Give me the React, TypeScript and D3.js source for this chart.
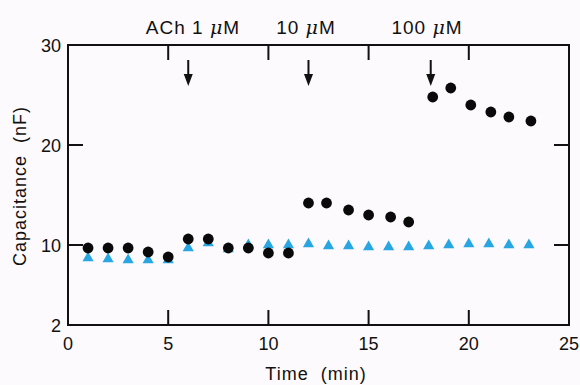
import React, { useEffect, useRef } from 'react';
import * as d3 from 'd3';

// ACh responses (black circles) and control (blue triangles)
const achTime = [1, 2, 3, 4, 5, 6, 7, 8, 9, 10, 11, 12, 12.9, 14, 15, 16.1, 17, 18.2, 19.1, 20.1, 21.1, 22, 23.1];
const achCap = [9.7, 9.7, 9.7, 9.3, 8.8, 10.6, 10.6, 9.7, 9.7, 9.2, 9.2, 14.2, 14.2, 13.5, 13.0, 12.8, 12.3, 24.8, 25.7, 24.0, 23.3, 22.8, 22.4];
const ctrlTime = [1, 2, 3, 4, 5, 6, 7, 8, 9, 10, 11, 12, 13, 14, 15, 16, 17, 18, 19, 20, 21, 22, 23];
const ctrlCap = [8.7, 8.6, 8.5, 8.5, 8.5, 9.7, 10.2, 9.6, 10.0, 10.0, 10.0, 10.1, 9.9, 9.9, 9.8, 9.8, 9.8, 9.9, 10.0, 10.1, 10.1, 10.0, 10.0];

const xTicks = [0, 5, 10, 15, 20, 25];
const yTicks = [2, 10, 20, 30];
const arrowTimes = [6, 12, 18.1];
const doseLabels = [
  { pre: 'ACh 1 ', x: 193 },
  { pre: '10 ', x: 306 },
  { pre: '100 ', x: 427 },
];

const W = 580;
const H = 385;
const margin = { top: 45, right: 11, bottom: 60, left: 68 };
const FONT = '"Liberation Sans", Arial, Helvetica, sans-serif';

export default function App() {
  const ref = useRef<SVGSVGElement>(null);

  useEffect(() => {
    if (!ref.current) return;
    const svg = d3.select(ref.current);
    svg.selectAll('*').remove();

    const x = d3.scaleLinear().domain([0, 25]).range([margin.left, W - margin.right]);
    const y = d3.scaleLinear().domain([2, 30]).range([H - margin.bottom, margin.top]);

    svg.append('rect').attr('width', W).attr('height', H).attr('fill', '#fcfafc');

    const [x0, x1] = x.range();
    const [y0, y1] = y.range();
    const tickLen = 15;

    // frame
    svg.append('rect')
      .attr('x', x0).attr('y', y1)
      .attr('width', x1 - x0).attr('height', y0 - y1)
      .attr('fill', 'none').attr('stroke', '#111').attr('stroke-width', 2);

    const inner = xTicks.filter(t => t > 0 && t < 25);
    const g = svg.append('g').attr('stroke', '#111').attr('stroke-width', 2);
    inner.forEach(t => {
      g.append('line').attr('x1', x(t)).attr('x2', x(t)).attr('y1', y0).attr('y2', y0 - tickLen);
      g.append('line').attr('x1', x(t)).attr('x2', x(t)).attr('y1', y1).attr('y2', y1 + tickLen);
    });
    yTicks.filter(t => t > 2 && t < 30).forEach(t => {
      g.append('line').attr('x1', x0).attr('x2', x0 + tickLen).attr('y1', y(t)).attr('y2', y(t));
      g.append('line').attr('x1', x1).attr('x2', x1 - tickLen).attr('y1', y(t)).attr('y2', y(t));
    });

    // tick labels
    svg.append('g').selectAll('text').data(xTicks).enter().append('text')
      .attr('x', d => x(d)).attr('y', y0 + 25)
      .attr('text-anchor', 'middle')
      .attr('font-family', FONT).attr('font-size', 18).attr('fill', '#111')
      .text(d => d);
    svg.append('g').selectAll('text').data(yTicks).enter().append('text')
      .attr('x', x0 - 7).attr('y', d => y(d) + 6.5)
      .attr('text-anchor', 'end')
      .attr('font-family', FONT).attr('font-size', 18).attr('fill', '#111')
      .text(d => d);

    // axis titles
    svg.append('text')
      .attr('x', 316).attr('y', 380)
      .attr('text-anchor', 'middle')
      .attr('font-family', FONT).attr('font-size', 18).attr('letter-spacing', 1).attr('fill', '#111')
      .attr('xml:space', 'preserve')
      .text('Time  (min)');
    svg.append('text')
      .attr('transform', `translate(26,186) rotate(-90)`)
      .attr('text-anchor', 'middle')
      .attr('font-family', FONT).attr('font-size', 18).attr('letter-spacing', 1).attr('fill', '#111')
      .attr('xml:space', 'preserve')
      .text('Capacitance  (nF)');

    // dose labels
    doseLabels.forEach(d => {
      const t = svg.append('text')
        .attr('x', d.x).attr('y', 34)
        .attr('text-anchor', 'middle')
        .attr('font-family', FONT).attr('font-size', 19).attr('letter-spacing', 1).attr('fill', '#111')
        .attr('xml:space', 'preserve');
      t.append('tspan').text(d.pre);
      t.append('tspan').attr('font-style', 'italic').attr('font-family', '"DejaVu Serif", serif').text('\u03bc');
      t.append('tspan').text('M');
    });

    // arrows
    arrowTimes.forEach(t => {
      const ax = x(t);
      svg.append('line').attr('x1', ax).attr('x2', ax).attr('y1', 60).attr('y2', 76)
        .attr('stroke', '#111').attr('stroke-width', 2);
      svg.append('path')
        .attr('d', `M${ax - 4.5},74 L${ax + 4.5},74 L${ax},86 Z`)
        .attr('fill', '#111');
    });

    // control triangles
    const tri = d3.symbol().type(d3.symbolTriangle).size(54);
    svg.append('g').selectAll('path').data(ctrlTime).enter().append('path')
      .attr('d', tri)
      .attr('transform', (d, i) => `translate(${x(d)},${y(ctrlCap[i])})`)
      .attr('fill', '#27a6e1');

    // ACh circles
    svg.append('g').selectAll('circle').data(achTime).enter().append('circle')
      .attr('cx', d => x(d))
      .attr('cy', (d, i) => y(achCap[i]))
      .attr('r', 5.4)
      .attr('fill', '#0a0a0a');
  }, []);

  return (
    <svg
      ref={ref}
      width={W}
      height={H}
      style={{ position: 'absolute', left: 0, top: 0 }}
    />
  );
}
